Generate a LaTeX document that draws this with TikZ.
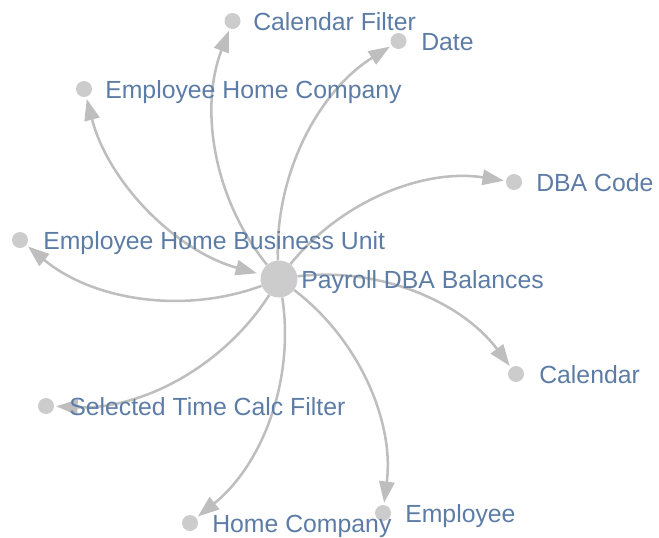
\documentclass[tikz,border=0pt]{standalone}
\usepackage{fontspec}
\setmainfont{Liberation Sans}
\usetikzlibrary{arrows.meta,backgrounds}
\definecolor{edgegray}{RGB}{190,190,190}
\definecolor{nodegray}{RGB}{204,204,204}
\definecolor{labelblue}{RGB}{92,124,166}
\begin{document}
\begin{tikzpicture}[x=0.75pt,y=0.75pt,
  leaf/.style={circle,fill=nodegray,minimum size=12pt,inner sep=0pt},
  hub/.style={circle,fill=nodegray,minimum size=27.75pt,inner sep=0pt},
  lbl/.style={anchor=base west,inner sep=0pt,text=labelblue,font=\fontsize{18.6}{22}\selectfont},
  tip/.tip={Triangle[length=16pt,width=11.5pt]},
  edge/.style={draw=edgegray,line width=1.9pt,-tip,shorten >=1.5pt},
  arcto/.style={bend left=30,looseness=0.91}]
\useasboundingbox (0,0) rectangle (659,-537);

% nodes
\node[hub]  (P)    at (279,-279) {};
\node[leaf] (CF)   at (232.5,-21) {};
\node[leaf] (D)    at (398.5,-41) {};
\node[leaf] (EHC)  at (84,-89) {};
\node[leaf] (DBA)  at (514,-182) {};
\node[leaf] (EHBU) at (20,-240) {};
\node[leaf] (Cal)  at (516,-374) {};
\node[leaf] (STCF) at (46,-406) {};
\node[leaf] (HC)   at (190,-523) {};
\node[leaf] (Emp)  at (383,-513) {};

% edges
\begin{pgfonlayer}{background}
\draw[edge] (P) to[arcto] (CF);
\draw[edge] (P) to[arcto] (D);
\draw[edge,tip-tip,shorten <=3pt] (P) to[arcto] (EHC);
\draw[edge] (P) to[arcto] (DBA);
\draw[edge] (P) to[arcto] (EHBU);
\draw[edge] (P) to[arcto] (Cal);
\draw[edge] (P) to[arcto] (STCF);
\draw[edge] (P) to[arcto] (HC);
\draw[edge] (P) to[arcto] (Emp);
\end{pgfonlayer}

% labels
\node[lbl] (tP)    at (301,-288) {Payroll DBA Balances};
\node[lbl] (tCF)   at (253,-30) {Calendar Filter};
\node[lbl] (tD)    at (421,-50) {Date};
\node[lbl] (tEHC)  at (105,-98) {Employee Home Company};
\node[lbl] (tDBA)  at (536,-191) {DBA Code};
\node[lbl] (tEHBU) at (43,-249) {Employee Home Business Unit};
\node[lbl] (tCal)  at (539,-383) {Calendar};
\node[lbl] (tSTCF) at (69,-415) {Selected Time Calc Filter};
\node[lbl] (tHC)   at (212,-532) {Home Company};
\node[lbl] (tEmp)  at (405,-522) {Employee};
\end{tikzpicture}
\end{document}
